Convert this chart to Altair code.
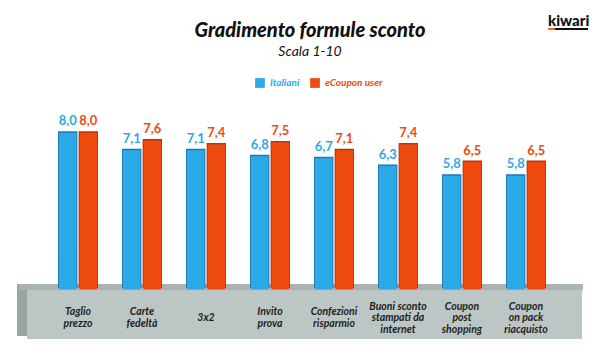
import altair as alt
import pandas as pd

categories = ["Taglio prezzo", "Carte fedeltà", "3x2", "Invito prova",
              "Confezioni risparmio", "Buoni sconto stampati da internet",
              "Coupon post shopping", "Coupon on pack riacquisto"]
category_labels = ["Taglio\nprezzo", "Carte\nfedeltà", "3x2", "Invito\nprova",
                   "Confezioni\nrisparmio", "Buoni sconto\nstampati da\ninternet",
                   "Coupon\npost\nshopping", "Coupon\non pack\nriacquisto"]
series = ["Italiani", "eCoupon user"]
italiani = [8.0, 7.1, 7.1, 6.8, 6.7, 6.3, 5.8, 5.8]
ecoupon = [8.0, 7.6, 7.4, 7.5, 7.1, 7.4, 6.5, 6.5]

BLUE, BLUE_D = "#2caae6", "#1b78c0"
ORANGE, ORANGE_D = "#ef4b0e", "#b8360a"
FONT = "Lato"

rows = []
for c, a, b in zip(categories, italiani, ecoupon):
    rows.append({"cat": c, "series": series[0], "value": a})
    rows.append({"cat": c, "series": series[1], "value": b})
df = pd.DataFrame(rows)
cat_df = pd.DataFrame({"cat": categories, "label": category_labels,
                       "n": [lab.count("\n") + 1 for lab in category_labels]})
one = pd.DataFrame({"d": [0]})

xscale = alt.Scale(domain=categories, range=[38, 550], paddingInner=0.375, paddingOuter=0.1875)
xoff = alt.Scale(domain=series, paddingInner=0.06)
yscale = alt.Scale(domain=[0, 10], range=[280, 84])

X = alt.X("cat:N", scale=xscale, axis=None, sort=categories)
XO = alt.XOffset("series:N", scale=xoff, sort=series)
Y = alt.Y("value:Q", scale=yscale, axis=None)
is_it = alt.datum.series == "Italiani"

def rect(x, x2, y, y2, color):
    return alt.Chart(one).mark_rect(color=color).encode(
        x=alt.value(x), x2=alt.value(x2), y=alt.value(y), y2=alt.value(y2))

# platform
side = rect(9, 19, 276, 328, "#9aa4a2")
top = rect(11, 575, 276, 282, "#a9b3b1")
front = rect(19, 574, 282, 331, "#bcc6c4")

bars_dark = alt.Chart(df).mark_bar().encode(
    x=X, xOffset=XO, y=Y,
    color=alt.condition(is_it, alt.value(BLUE_D), alt.value(ORANGE_D)))
bars = alt.Chart(df).mark_bar(width=17.5, xOffset=1, yOffset=1.5).encode(
    x=X, xOffset=XO, y=Y,
    color=alt.condition(is_it, alt.value(BLUE), alt.value(ORANGE)))

vlabels = alt.Chart(df).transform_calculate(
    txt="replace(format(datum.value, '.1f'), '.', ',')"
).mark_text(font=FONT, fontWeight="bold", fontSize=13, dy=-10, baseline="middle").encode(
    x=X, xOffset=XO, y=Y, text="txt:N",
    color=alt.condition(is_it, alt.value(BLUE), alt.value(ORANGE)))

LH = 11.5
clabel_layers = []
for n in (1, 2, 3):
    clabel_layers.append(
        alt.Chart(cat_df).transform_filter(alt.datum.n == n).mark_text(
            font=FONT, fontWeight="bold", fontStyle="italic", fontSize=10.5, lineHeight=LH,
            lineBreak="\n", baseline="middle", color="#1e1e1e"
        ).encode(x=X, y=alt.value(310 - (n - 1) * LH / 2), text="label:N")
    )

title = alt.Chart(one).mark_text(
    text="Gradimento formule sconto", font=FONT, fontWeight=900, fontStyle="italic",
    fontSize=20, color="#111111", baseline="middle"
).encode(x=alt.value(302), y=alt.value(23))
subtitle = alt.Chart(one).mark_text(
    text="Scala 1-10", font=FONT, fontStyle="italic", fontSize=14,
    color="#111111", baseline="middle"
).encode(x=alt.value(302), y=alt.value(44))

leg = [
    alt.Chart(one).mark_square(size=95, color=BLUE, opacity=1).encode(x=alt.value(252), y=alt.value(75)),
    alt.Chart(one).mark_text(text="Italiani", font=FONT, fontStyle="italic", fontWeight="bold",
                             fontSize=10, color=BLUE, align="left", baseline="middle"
                             ).encode(x=alt.value(262), y=alt.value(75)),
    alt.Chart(one).mark_square(size=95, color=ORANGE, opacity=1).encode(x=alt.value(307), y=alt.value(75)),
    alt.Chart(one).mark_text(text="eCoupon user", font=FONT, fontStyle="italic", fontWeight="bold",
                             fontSize=10, color=ORANGE, align="left", baseline="middle"
                             ).encode(x=alt.value(317), y=alt.value(75)),
]

logo = [
    alt.Chart(one).mark_text(text="kiwari", font=FONT, fontWeight=900, fontSize=15,
                             color="#111111", align="left", baseline="alphabetic"
                             ).encode(x=alt.value(540), y=alt.value(18)),
    rect(540, 547, 20, 22, "#ef6a1a"),
    rect(547, 580, 20, 22, "#111111"),
]

chart = alt.layer(
    side, top, front, bars_dark, bars, vlabels, *clabel_layers, title, subtitle, *leg, *logo
).properties(
    width=584, height=344, padding=0, autosize=alt.AutoSizeParams(type="none"),
    background="white"
).configure_view(stroke=None)

chart.save("out.html", embed_options={"renderer": "svg", "actions": False})
